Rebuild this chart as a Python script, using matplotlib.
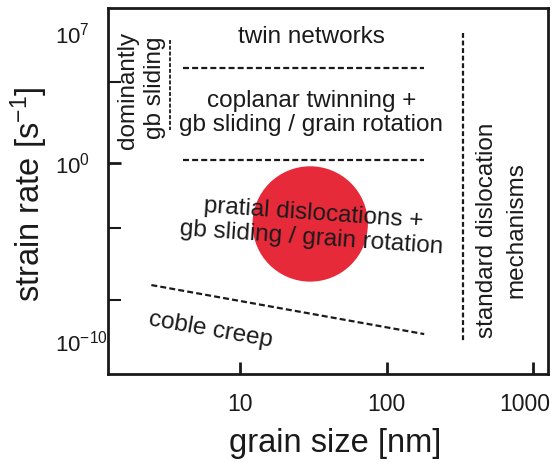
import matplotlib
matplotlib.use("Agg")
import matplotlib.pyplot as plt
import matplotlib.transforms as mtransforms
import numpy as np

plt.rcParams['font.family'] = ['Liberation Sans', 'DejaVu Sans']

# axis ranges (grain size in nm, strain rate in 1/s)
x_range = [1.25, 1260]
y_range = [10**-11.36, 10**8.35]

x_ticks = [10, 100, 1000]
x_tick_labels = ['10', '100', '1000']
y_ticks = [1e7, 1e0, 10**-9.6]
y_tick_labels = [r'$\mathregular{10^{7}}$', r'$\mathregular{10^{0}}$', r'$\mathregular{10^{-10}}$']
y_minor_ticks = [10**4.36, 10**-3.5, 10**-7.4]

# regime boundaries
twin_x = [4.08, 180]
twin_y = [10**5.12, 10**5.12]
coplanar_x = [4.08, 180]
coplanar_y = [10**0.16, 10**0.16]
coble_x = [2.47, 180]
coble_y = [10**-6.57, 10**-9.21]
standard_x = [331, 331]
standard_y = [1e7, 10**-9.6]
gb_x = [3.3, 3.3]
gb_y = [10**6.62, 10**1.8]

# marked region (red disc)
spot_x = [30]
spot_y = [10**-3.28]

fig = plt.figure(figsize=(5.52, 4.62), dpi=100)
ax = fig.add_axes([108/552, 1 - 374/462, 440/552, 366/462])
ax.set_xscale('log')
ax.set_yscale('log')
ax.set_xlim(x_range)
ax.set_ylim(y_range)

ax.scatter(spot_x, spot_y, s=6900, color='#E62A3A', edgecolors='none', zorder=1)

dash = (0, (2.7, 1.4))
ax.plot(twin_x, twin_y, color='#1a1a1a', lw=1.6, linestyle=dash)
ax.plot(coplanar_x, coplanar_y, color='#1a1a1a', lw=1.6, linestyle=dash)
ax.plot(coble_x, coble_y, color='#1a1a1a', lw=1.6, linestyle=dash)
ax.plot(standard_x, standard_y, color='#1a1a1a', lw=1.6, linestyle=(0, (2.2, 1.2)))
ax.plot(gb_x, gb_y, color='#1a1a1a', lw=1.3, linestyle=(0, (2.2, 1.0)))

fs = 17.5
tc = '#1a1a1a'
ax.text(30.5, 10**6.78, 'twin networks', fontsize=fs, color=tc, ha='center', va='center')
ax.text(30.5, 10**2.69, 'coplanar twinning +\ngb sliding / grain rotation', fontsize=fs,
        color=tc, ha='center', va='center', linespacing=1.1)
ax.text(31, 10**-3.39, 'pratial dislocations +\ngb sliding / grain rotation', fontsize=fs,
        color=tc, ha='center', va='center', linespacing=1.1, rotation=-4,
        rotation_mode='anchor', multialignment='center', zorder=3)
ax.text(6.3, 10**-9.0, 'coble creep', fontsize=fs, color=tc, ha='center', va='center',
        rotation=-10, rotation_mode='anchor')
ax.text(1.72, 10**3.93, 'dominantly', fontsize=fs, color=tc, ha='center', va='center',
        rotation=90)
ax.text(2.63, 10**4.04, 'gb sliding', fontsize=fs, color=tc, ha='center', va='center',
        rotation=90)
ax.text(485, 10**-3.6, 'standard dislocation', fontsize=fs, color=tc, ha='center',
        va='center', rotation=90)
ax.text(766, 10**-3.6, 'mechanisms', fontsize=fs, color=tc, ha='center', va='center',
        rotation=90)

for s in ax.spines.values():
    s.set_linewidth(2.0)
    s.set_color('#1a1a1a')

ax.xaxis.set_major_locator(matplotlib.ticker.FixedLocator(x_ticks))
ax.xaxis.set_minor_locator(matplotlib.ticker.NullLocator())
ax.set_xticklabels(x_tick_labels)
ax.yaxis.set_major_locator(matplotlib.ticker.FixedLocator(y_ticks))
ax.yaxis.set_minor_locator(matplotlib.ticker.FixedLocator(y_minor_ticks))
ax.set_yticklabels(y_tick_labels, ha='left')
ax.yaxis.set_minor_formatter(matplotlib.ticker.NullFormatter())

ax.tick_params(axis='both', which='both', direction='in', colors='#1a1a1a',
               width=2, length=9)
ax.tick_params(axis='x', which='major', pad=14, labelsize=16.5)
ax.tick_params(axis='y', which='major', pad=38, labelsize=16)
ax.tick_params(axis='y', which='minor', width=1.5)
# only the 10^0 label carries a visible tick mark
for i in (0, 2):
    ax.yaxis.get_major_ticks()[i].tick1line.set_visible(False)

# pull the last grain-size label in from the figure edge
last = ax.get_xticklabels()[-1]
last.set_transform(last.get_transform() +
                   mtransforms.ScaledTranslation(-9/100, 0, fig.dpi_scale_trans))

ax.set_xlabel('grain size [nm]', fontsize=23.5, color=tc)
ax.xaxis.set_label_coords(0.517, -0.147)
ax.set_ylabel(r'strain rate [s$\mathregular{^{-1}}$]', fontsize=23.5, color=tc)
ax.yaxis.set_label_coords(-0.132, 0.49)

fig.savefig('out.png', dpi=100)
